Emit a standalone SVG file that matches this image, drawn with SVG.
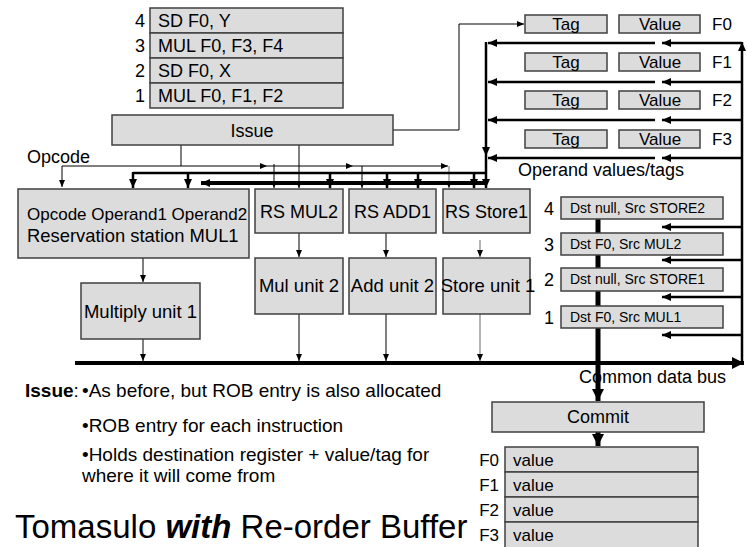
<svg xmlns="http://www.w3.org/2000/svg" width="748" height="547" viewBox="0 0 748 547">
<style>
.b{fill:#dcdcdc;stroke:#404040;stroke-width:1.5}
text{font-family:"Liberation Sans",Arial,sans-serif;fill:#000}
.f18{font-size:18px}
.f17{font-size:17px}
.f14{font-size:14px}
.n{font-size:18.5px}
.m{font-size:19px}
.c{text-anchor:middle}
.e{text-anchor:end}
.thin{stroke:#000;stroke-width:1;fill:none}
.grey{stroke:#808080;stroke-width:1.2;fill:none}
.thk{stroke:#000;stroke-width:2.5;fill:none}
.bus{stroke:#000;stroke-width:4;fill:none}
.rob{stroke:#000;stroke-width:5;fill:none}
</style>
<defs>
<marker id="a" markerWidth="8" markerHeight="8" refX="7" refY="4" orient="auto" markerUnits="userSpaceOnUse"><path d="M0,1 L7,4 L0,7 z" fill="#000"/></marker>
<marker id="A" markerWidth="10" markerHeight="10" refX="9" refY="5" orient="auto" markerUnits="userSpaceOnUse"><path d="M0,1 L9,5 L0,9 z" fill="#000"/></marker>
<marker id="B" markerWidth="14" markerHeight="14" refX="12" refY="7" orient="auto" markerUnits="userSpaceOnUse"><path d="M0,1 L12,7 L0,13 z" fill="#000"/></marker>
</defs>

<g id="connectors">
  <path class="thin" d="M393,130 H459 V24 H524" marker-end="url(#a)"/>
  <path class="thin" d="M181,145 V166 H62 V187" marker-end="url(#a)"/>
  <line class="thin" x1="181" y1="166" x2="267" y2="166" marker-end="url(#a)"/>
  <line class="thin" x1="267" y1="166" x2="353" y2="166" marker-end="url(#a)"/>
  <line class="thin" x1="353" y1="166" x2="448" y2="166" marker-end="url(#a)"/>
  <line class="thin" x1="274" y1="164" x2="274" y2="188" marker-end="url(#a)"/>
  <line class="thin" x1="299" y1="145" x2="299" y2="188" marker-end="url(#a)"/>
  <line class="thin" x1="362" y1="166" x2="362" y2="188" marker-end="url(#a)"/>
  <line class="grey" x1="449" y1="166" x2="449" y2="188" marker-end="url(#a)"/>
  <line class="thk" x1="133" y1="173" x2="487" y2="173"/>
  <line class="bus" x1="487" y1="183" x2="201" y2="183" marker-end="url(#A)"/>
  <line class="thk" x1="133" y1="172" x2="133" y2="188" marker-end="url(#A)"/>
  <line class="thk" x1="188" y1="172" x2="188" y2="188" marker-end="url(#A)"/>
  <line class="thk" x1="330" y1="172" x2="330" y2="188" marker-end="url(#A)"/>
  <line class="thk" x1="387" y1="172" x2="387" y2="188" marker-end="url(#A)"/>
  <line class="thk" x1="418" y1="172" x2="418" y2="188" marker-end="url(#A)"/>
  <line class="thk" x1="474" y1="172" x2="474" y2="188" marker-end="url(#A)"/>
  <line class="thk" x1="486" y1="156" x2="486" y2="188" marker-end="url(#A)"/>
  <line class="thk" x1="486" y1="42" x2="486" y2="156" marker-end="url(#A)"/>
  <line class="thk" x1="655" y1="43" x2="488" y2="43" marker-end="url(#A)"/>
  <line class="thk" x1="655" y1="82" x2="488" y2="82" marker-end="url(#A)"/>
  <line class="thk" x1="655" y1="120" x2="488" y2="120" marker-end="url(#A)"/>
  <line class="thk" x1="655" y1="158" x2="488" y2="158" marker-end="url(#A)"/>
  <line class="thk" x1="742" y1="43" x2="662" y2="43" marker-end="url(#A)"/>
  <line class="thk" x1="742" y1="82" x2="662" y2="82" marker-end="url(#A)"/>
  <line class="thk" x1="742" y1="120" x2="662" y2="120" marker-end="url(#A)"/>
  <line class="thk" x1="742" y1="158" x2="662" y2="158" marker-end="url(#A)"/>
  <line class="thk" x1="742" y1="227" x2="662" y2="227" marker-end="url(#A)"/>
  <line class="thk" x1="742" y1="260" x2="662" y2="260" marker-end="url(#A)"/>
  <line class="thk" x1="742" y1="297" x2="662" y2="297" marker-end="url(#A)"/>
  <line class="thk" x1="742" y1="335" x2="662" y2="335" marker-end="url(#A)"/>
  <line class="thk" x1="742" y1="364" x2="742" y2="42" marker-end="url(#A)"/>
  <line class="bus" x1="75" y1="363" x2="744" y2="363" marker-end="url(#B)"/>
  <line class="thin" x1="143" y1="258" x2="143" y2="282" marker-end="url(#a)"/>
  <line class="thin" x1="299" y1="233" x2="299" y2="257" marker-end="url(#a)"/>
  <line class="thin" x1="386" y1="233" x2="386" y2="257" marker-end="url(#a)"/>
  <line class="grey" x1="480" y1="240" x2="480" y2="257" marker-end="url(#a)"/>
  <line class="thin" x1="143" y1="339" x2="143" y2="361" marker-end="url(#a)"/>
  <line class="thin" x1="299" y1="314" x2="299" y2="361" marker-end="url(#a)"/>
  <line class="thin" x1="386" y1="314" x2="386" y2="361" marker-end="url(#a)"/>
  <line class="grey" x1="480" y1="314" x2="480" y2="361" marker-end="url(#a)"/>
  <text class="f18" x="579" y="383">Common data bus</text>
  <line class="rob" x1="598" y1="219" x2="598" y2="401" marker-end="url(#B)"/>
  <line class="rob" x1="598" y1="432" x2="598" y2="446" marker-end="url(#B)"/>
  <text class="f18" x="27" y="163">Opcode</text>
  <text class="f18" x="518" y="176">Operand values/tags</text>
</g>

<g id="instr-queue">
  <rect class="b" x="150" y="8" width="193" height="25"/>
  <rect class="b" x="150" y="33" width="193" height="25"/>
  <rect class="b" x="150" y="58" width="193" height="25"/>
  <rect class="b" x="150" y="83" width="193" height="25"/>
  <text class="f18" x="158" y="27">SD F0, Y</text>
  <text class="f18" x="158" y="52">MUL F0, F3, F4</text>
  <text class="f18" x="158" y="77">SD F0, X</text>
  <text class="f18" x="158" y="102">MUL F0, F1, F2</text>
  <text class="f18 e" x="145" y="27">4</text>
  <text class="f18 e" x="145" y="52">3</text>
  <text class="f18 e" x="145" y="77">2</text>
  <text class="f18 e" x="145" y="102">1</text>
</g>

<g id="issue">
  <rect class="b" x="112" y="115" width="281" height="30"/>
  <text class="f18 c" x="252" y="137">Issue</text>
</g>

<g id="regs">
  <rect class="b" x="525" y="15" width="82" height="18"/>
  <rect class="b" x="619" y="15" width="81" height="18"/>
  <rect class="b" x="525" y="53" width="82" height="18"/>
  <rect class="b" x="619" y="53" width="81" height="18"/>
  <rect class="b" x="525" y="91" width="82" height="18"/>
  <rect class="b" x="619" y="91" width="81" height="18"/>
  <rect class="b" x="525" y="130" width="82" height="18"/>
  <rect class="b" x="619" y="130" width="81" height="18"/>
  <text class="f17 c" x="566" y="30">Tag</text>
  <text class="f17 c" x="660" y="30">Value</text>
  <text class="f17" x="712" y="30">F0</text>
  <text class="f17 c" x="566" y="68">Tag</text>
  <text class="f17 c" x="660" y="68">Value</text>
  <text class="f17" x="712" y="68">F1</text>
  <text class="f17 c" x="566" y="106">Tag</text>
  <text class="f17 c" x="660" y="106">Value</text>
  <text class="f17" x="712" y="106">F2</text>
  <text class="f17 c" x="566" y="145">Tag</text>
  <text class="f17 c" x="660" y="145">Value</text>
  <text class="f17" x="712" y="145">F3</text>
</g>

<g id="rs-mul1">
  <rect class="b" x="18" y="189" width="231" height="69"/>
  <text x="27" y="220" style="font-size:17px">Opcode  Operand1 Operand2</text>
  <text x="27" y="242" style="font-size:18.4px">Reservation station MUL1</text>
</g>
<g id="rs-mul2">
  <rect class="b" x="255" y="189" width="88" height="44"/>
  <text class="f18 c" x="299" y="218">RS MUL2</text>
</g>
<g id="rs-add1">
  <rect class="b" x="349" y="189" width="87" height="44"/>
  <text class="f18 c" x="392.5" y="218">RS ADD1</text>
</g>
<g id="rs-store1">
  <rect class="b" x="443" y="189" width="87" height="44"/>
  <text class="f18 c" x="486.5" y="218">RS Store1</text>
</g>
<g id="mul-unit1">
  <rect class="b" x="81" y="283" width="119" height="56"/>
  <text class="n c" x="140.5" y="318">Multiply unit 1</text>
</g>
<g id="mul-unit2">
  <rect class="b" x="255" y="258" width="88" height="56"/>
  <text class="n c" x="299" y="292">Mul unit 2</text>
</g>
<g id="add-unit2">
  <rect class="b" x="349" y="258" width="87" height="56"/>
  <text class="n c" x="392.5" y="292">Add unit 2</text>
</g>
<g id="store-unit1">
  <rect class="b" x="443" y="258" width="87" height="56"/>
  <text class="n c" x="488" y="292">Store unit 1</text>
</g>

<g id="rob">
  <rect class="b" x="561" y="197" width="162" height="22"/>
  <rect class="b" x="561" y="233" width="162" height="22"/>
  <rect class="b" x="561" y="268" width="162" height="23"/>
  <rect class="b" x="561" y="306" width="162" height="22"/>
  <text class="f14" x="570" y="213">Dst null, Src STORE2</text>
  <text class="f14" x="570" y="249">Dst F0, Src MUL2</text>
  <text class="f14" x="570" y="284">Dst null, Src STORE1</text>
  <text class="f14" x="570" y="322">Dst F0, Src MUL1</text>
  <text class="f18 c" x="549" y="215">4</text>
  <text class="f18 c" x="549" y="251">3</text>
  <text class="f18 c" x="549" y="286">2</text>
  <text class="f18 c" x="549" y="324">1</text>
</g>

<g id="commit">
  <rect class="b" x="492" y="402" width="212" height="30"/>
  <text class="f18 c" x="598" y="423">Commit</text>
</g>

<g id="regfile">
  <rect class="b" x="505" y="447" width="193" height="25"/>
  <rect class="b" x="505" y="472" width="193" height="25"/>
  <rect class="b" x="505" y="497" width="193" height="25"/>
  <rect class="b" x="505" y="522" width="193" height="30"/>
  <text class="f17" x="513" y="466">value</text>
  <text class="f17" x="513" y="491">value</text>
  <text class="f17" x="513" y="516">value</text>
  <text class="f17" x="513" y="541">value</text>
  <text class="f17 e" x="499" y="466">F0</text>
  <text class="f17 e" x="499" y="491">F1</text>
  <text class="f17 e" x="499" y="516">F2</text>
  <text class="f17 e" x="499" y="541">F3</text>
</g>

<g id="notes">
  <text class="m" x="25" y="397"><tspan font-weight="bold">Issue</tspan>:</text>
  <text class="m" x="82" y="397">•As before, but ROB entry is also allocated</text>
  <text class="m" x="82" y="432">•ROB entry for each instruction</text>
  <text class="m" x="82" y="461">•Holds destination register + value/tag for</text>
  <text class="m" x="82" y="482">where it will come from</text>
  <text x="15" y="538" style="font-size:33px">Tomasulo <tspan font-weight="bold" font-style="italic">with</tspan> Re-order Buffer</text>
</g>
</svg>
